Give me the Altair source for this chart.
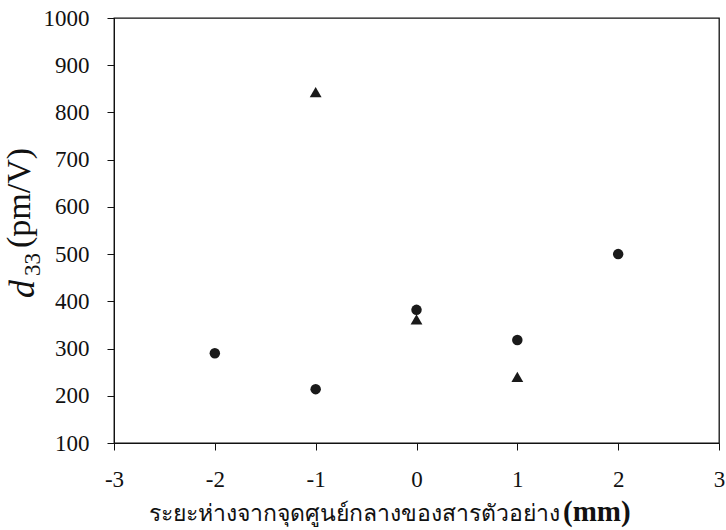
import altair as alt
import pandas as pd

# Data
circle_x = [-2, -1, 0, 1, 2]
circle_y = [290, 214, 382, 318, 500]
triangle_x = [-1, 0, 1]
triangle_y = [843, 362, 240]

x_ticks = [-3, -2, -1, 0, 1, 2, 3]
y_ticks = [100, 200, 300, 400, 500, 600, 700, 800, 900, 1000]

x_title_thai = "ระยะห่างจากจุดศูนย์กลางของสารตัวอย่าง"
x_title_unit = "(mm)"
y_title_d = "d"
y_title_sub = "33"
y_title_unit = "(pm/V)"

circles = pd.DataFrame({"x": circle_x, "y": circle_y})
triangles = pd.DataFrame({"x": triangle_x, "y": triangle_y})

FONT = "Liberation Serif"
LABEL_EXPR = "datum.value < 0 ? '-' + abs(datum.value) : '' + datum.value"

xenc = alt.X("x:Q", scale=alt.Scale(domain=[-3, 3], nice=False),
             axis=alt.Axis(values=x_ticks, title=None, grid=False,
                           labelExpr=LABEL_EXPR,
                           labelFont=FONT, labelFontSize=23, labelColor="#111",
                           labelPadding=18, tickSize=7, tickColor="#111",
                           domainColor="#111", labelFlush=False))
yenc = alt.Y("y:Q", scale=alt.Scale(domain=[100, 1000], nice=False, zero=False),
             axis=alt.Axis(values=y_ticks, title=None, grid=False,
                           labelExpr=LABEL_EXPR,
                           labelFont=FONT, labelFontSize=23, labelColor="#111",
                           labelPadding=18, tickSize=7, tickColor="#111",
                           domainColor="#111", labelFlush=False))

circ = alt.Chart(circles).mark_point(filled=True, size=110, opacity=1, shape="circle",
                                     color="#1a1a1a").encode(x=xenc, y=yenc)
tri = alt.Chart(triangles).mark_point(filled=True, size=140, opacity=1, shape="triangle-up",
                                      color="#1a1a1a").encode(x="x:Q", y="y:Q")

def txt(text, x, y, size, angle=0, align="left", style="normal", weight="normal"):
    kw = dict(font=FONT, fontSize=size, align=align, baseline="alphabetic",
              fontStyle=style, fontWeight=weight, color="#111")
    if angle:
        kw["angle"] = angle
    return alt.Chart(pd.DataFrame({"t": [text]})).mark_text(**kw).encode(
        text="t:N", x=alt.value(x), y=alt.value(y))

# x title (plot coordinates: origin at plot top-left)
xt1 = txt(x_title_thai, 446, 503, 23, align="right")
xt2 = txt(x_title_unit, 449, 503, 29, align="left", weight="bold")

# y title, rotated
yt1 = txt(y_title_d, -80, 280, 36, angle=270, align="left", style="italic")
yt2 = txt(y_title_sub, -74, 258, 23, angle=270, align="left")
yt3 = txt(y_title_unit, -84, 230, 34, angle=270, align="left")

chart = alt.layer(circ, tri, xt1, xt2, yt1, yt2, yt3).properties(
    width=605, height=425,
    autosize=alt.AutoSizeParams(type="none"),
    padding={"left": 114, "top": 18, "right": 7, "bottom": 87},
    background="white",
).configure_view(stroke="#111", strokeWidth=1.3).configure_axis(labelFont=FONT)

chart.save("out.html", embed_options={"renderer": "svg", "actions": False})
